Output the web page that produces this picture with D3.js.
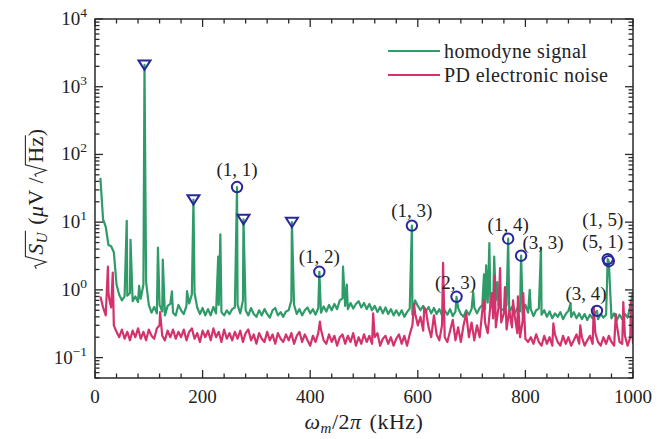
<!DOCTYPE html>
<html><head>
<meta charset="utf-8">
<script src="https://cdn.jsdelivr.net/npm/d3@7"></script>
<style>
body { margin: 0; background: #fff; }
svg text { font-family: 'Liberation Serif', 'DejaVu Serif', serif; fill: #222; }
</style>
</head>
<body>
<div id="chart"></div>
<script>

// baseline samples on a 5 kHz grid starting at 10 kHz
var gridStart = 10, gridStep = 5;

var homodyneBase = [
  45, 11, 8.5, 4.6, 4.4, 3.6, 1.2, 0.85, 0.7, 0.8,
  0.82, 0.9, 0.68, 0.8, 0.66, 0.74, 1.2, 1.3, 0.6, 0.46,
  0.56, 0.45, 0.6, 0.48, 0.42, 0.58, 0.62, 0.46, 0.42, 0.6,
  0.5, 0.44, 0.58, 0.63, 0.85, 0.9, 0.55, 0.44, 0.54, 0.42,
  0.52, 0.42, 0.56, 0.45, 0.6, 0.47, 0.42, 0.5, 0.44, 0.52,
  0.55, 0.6, 0.45, 0.7, 0.5, 0.42, 0.54, 0.44, 0.4, 0.5,
  0.42, 0.52, 0.44, 0.39, 0.5, 0.54, 0.42, 0.47, 0.4, 0.48,
  0.5, 0.7, 0.6, 0.44, 0.52, 0.42, 0.5, 0.55, 0.45, 0.52,
  0.43, 0.54, 0.46, 0.57, 0.48, 0.6, 0.5, 0.62, 0.52, 0.7,
  0.75, 0.58, 0.52, 0.64, 0.53, 0.62, 0.68, 0.55, 0.64, 0.52,
  0.62, 0.5, 0.58, 0.47, 0.56, 0.45, 0.55, 0.44, 0.52, 0.42,
  0.5, 0.42, 0.5, 0.4, 0.47, 0.53, 0.43, 0.7, 0.58, 0.5,
  0.58, 0.48, 0.56, 0.45, 0.54, 0.44, 0.52, 0.42, 0.5, 0.43,
  0.52, 0.41, 0.48, 0.54, 0.44, 0.4, 0.5, 0.43, 0.52, 0.55,
  0.45, 0.54, 0.6, 0.52, 0.65, 0.55, 0.62, 0.7, 0.6, 0.52,
  0.5, 0.6, 0.47, 0.56, 0.45, 0.54, 0.48, 0.44, 0.6, 0.46,
  0.52, 0.41, 0.5, 0.53, 0.43, 0.5, 0.4, 0.48, 0.38, 0.45,
  0.4, 0.47, 0.37, 0.44, 0.49, 0.4, 0.47, 0.38, 0.45, 0.37,
  0.44, 0.36, 0.43, 0.38, 0.46, 0.37, 0.44, 0.39, 0.43, 0.48,
  0.38, 0.45, 0.36, 0.43, 0.37, 0.44, 0.39, 0.58, 0.95
];
var homodynePeakF = [59, 66, 82, 92, 117, 126, 143, 171, 183, 229, 233, 264, 276, 366, 417,
  461, 468, 589, 672, 703, 723, 727, 733, 742, 748, 768, 792, 808, 829, 884, 933, 953, 955];
var homodynePeakV = [10.5, 5.5, 1.15, 2100, 4.2, 2.8, 0.95, 0.96, 21.5, 3.1, 6.6, 33, 11, 10, 1.85,
  2.2, 1.2, 8.9, 0.79, 0.93, 1.7, 2.3, 4.9, 3.1, 1.3, 5.7, 3.2, 1.0, 4.2, 0.63, 0.49, 2.85, 2.65];

var noiseBase = [
  0.8, 0.55, 0.42, 0.9, 0.55, 0.3, 0.24, 0.2, 0.26, 0.19,
  0.24, 0.18, 0.25, 0.2, 0.27, 0.19, 0.24, 0.18, 0.26, 0.21,
  0.19, 0.27, 0.3, 0.21, 0.18, 0.25, 0.2, 0.26, 0.19, 0.24,
  0.2, 0.26, 0.18, 0.24, 0.27, 0.19, 0.23, 0.17, 0.25, 0.2,
  0.25, 0.18, 0.27, 0.2, 0.24, 0.17, 0.26, 0.19, 0.23, 0.18,
  0.24, 0.19, 0.25, 0.17, 0.23, 0.26, 0.18, 0.22, 0.16, 0.23,
  0.19, 0.17, 0.24, 0.18, 0.22, 0.16, 0.23, 0.19, 0.17, 0.22,
  0.18, 0.23, 0.16, 0.21, 0.24, 0.17, 0.22, 0.18, 0.15, 0.21,
  0.17, 0.23, 0.26, 0.18, 0.16, 0.22, 0.17, 0.21, 0.15, 0.2,
  0.22, 0.16, 0.21, 0.17, 0.23, 0.15, 0.2, 0.16, 0.22, 0.17,
  0.21, 0.16, 0.2, 0.23, 0.15, 0.19, 0.21, 0.16, 0.2, 0.15,
  0.19, 0.22, 0.16, 0.21, 0.15, 0.22, 0.3, 0.45, 0.3, 0.4,
  0.25, 0.5, 0.28, 0.2, 0.42, 0.22, 0.18, 0.3, 0.2, 0.17,
  0.25, 0.36, 0.18, 0.28, 0.17, 0.3, 0.45, 0.2, 0.33, 0.18,
  0.3, 0.2, 0.5, 0.33, 0.23, 0.6, 0.38, 0.28, 0.55, 0.33,
  0.45, 0.26, 0.5, 0.28, 0.42, 0.23, 0.2, 0.35, 0.19, 0.17,
  0.2, 0.16, 0.22, 0.17, 0.15, 0.21, 0.16, 0.2, 0.15, 0.22,
  0.17, 0.15, 0.21, 0.16, 0.2, 0.15, 0.18, 0.22, 0.16, 0.2,
  0.15, 0.18, 0.21, 0.16, 0.23, 0.17, 0.15, 0.2, 0.16, 0.21,
  0.17, 0.15, 0.3, 0.17, 0.16, 0.21, 0.15, 0.2, 0.16
];
var noisePeakF = [24, 27, 33, 121, 418, 517, 593, 612, 647, 723, 738, 743, 753, 762, 777, 786, 796,
  852, 902, 927, 968, 982, 996];
var noisePeakV = [2.2, 0.7, 1.8, 0.47, 0.34, 0.45, 0.62, 0.55, 2.5, 0.7, 0.9, 1.6, 2.1, 1.1, 0.7, 0.8, 0.9,
  0.32, 0.3, 0.56, 0.44, 0.66, 0.66];

var modeF = [264, 417, 589, 672, 768, 792, 933, 953, 955];
var modeV = [33, 1.85, 8.9, 0.79, 5.7, 3.2, 0.49, 2.85, 2.65];
var modeLabels = ["(1, 1)", "(1, 2)", "(1, 3)", "(2, 3)", "(1, 4)", "(3, 3)", "(3, 4)", "(1, 5)", "(5, 1)"];

var triangleF = [92, 183, 276, 366];
var triangleV = [2100, 21.5, 11, 10];

var xTickValues = [0, 200, 400, 600, 800, 1000];
var yDecades = [-1, 0, 1, 2, 3, 4];
var seriesNames = ["homodyne signal", "PD electronic noise"];

// ---------------------------------------------------------------

var W = 668, H = 439;
var margin = {top: 19, right: 35, bottom: 61, left: 95};
var green = "#2e9b68", red = "#d4326c", navy = "#28289a", ink = "#2a2a2a";
var serif = "'Liberation Serif', 'DejaVu Serif', serif";

var svg = d3.select("#chart").append("svg")
    .attr("width", W).attr("height", H)
    .attr("font-family", serif);

var xScale = d3.scaleLinear().domain([0, 1000]).range([margin.left, W - margin.right]);
var yScale = d3.scaleLog().domain([0.05, 1e4]).range([H - margin.bottom, margin.top]);
var x0 = xScale.range()[0], x1 = xScale.range()[1];
var yTop = yScale.range()[1], yBot = yScale.range()[0];

function mergeSeries(base, pf, pv) {
  var m = new Map();
  base.forEach(function(v, i) { m.set(gridStart + i * gridStep, v); });
  pf.forEach(function(f, i) { m.set(f, pv[i]); });
  return Array.from(m, function(e) { return {f: e[0], v: e[1]}; })
    .sort(function(a, b) { return a.f - b.f; });
}

var homodyne = mergeSeries(homodyneBase, homodynePeakF, homodynePeakV);
var noise = mergeSeries(noiseBase, noisePeakF, noisePeakV);

svg.append("clipPath").attr("id", "clip")
  .append("rect").attr("x", x0).attr("y", yTop).attr("width", x1 - x0).attr("height", yBot - yTop);

var line = d3.line()
    .x(function(d) { return xScale(d.f); })
    .y(function(d) { return yScale(d.v); });

var plot = svg.append("g").attr("clip-path", "url(#clip)");

plot.append("path").datum(homodyne)
  .attr("fill", "none").attr("stroke", green).attr("stroke-width", 2.2)
  .attr("stroke-linejoin", "round").attr("d", line);

plot.append("path").datum(noise)
  .attr("fill", "none").attr("stroke", red).attr("stroke-width", 2.2)
  .attr("stroke-linejoin", "round").attr("d", line);

// markers
svg.selectAll(".tri").data(triangleF).enter().append("path")
  .attr("class", "tri")
  .attr("d", "M-6,-4.5 L6,-4.5 L0,5 Z")
  .attr("transform", function(d, i) { return "translate(" + xScale(d) + "," + yScale(triangleV[i]) + ")"; })
  .attr("fill", "none").attr("stroke", navy).attr("stroke-width", 2);

svg.selectAll(".mode").data(modeF).enter().append("circle")
  .attr("class", "mode")
  .attr("cx", function(d) { return xScale(d); })
  .attr("cy", function(d, i) { return yScale(modeV[i]); })
  .attr("r", 5.2)
  .attr("fill", "none").attr("stroke", navy).attr("stroke-width", 2);

var labelOffset = [[0, -11], [0, -9], [0, -9], [-1, -8], [0, -8], [22, -7], [-11, -11], [-5, -33], [-6, -13]];
svg.selectAll(".modelabel").data(modeLabels).enter().append("text")
  .attr("x", function(d, i) { return xScale(modeF[i]) + labelOffset[i][0]; })
  .attr("y", function(d, i) { return yScale(modeV[i]) + labelOffset[i][1]; })
  .attr("text-anchor", "middle")
  .style("font-size", "19px")
  .text(function(d) { return d; });

// frame and ticks
svg.append("rect").attr("x", x0).attr("y", yTop).attr("width", x1 - x0).attr("height", yBot - yTop)
  .attr("fill", "none").attr("stroke", ink).attr("stroke-width", 1.5);

var ticks = svg.append("g").attr("stroke", ink).attr("stroke-width", 1.3);
d3.range(0, 1001, 40).forEach(function(f) {
  var len = (f % 200 === 0) ? 8 : 4.5;
  var x = xScale(f);
  ticks.append("line").attr("x1", x).attr("x2", x).attr("y1", yBot).attr("y2", yBot - len);
  ticks.append("line").attr("x1", x).attr("x2", x).attr("y1", yTop).attr("y2", yTop + len);
});
d3.range(-2, 5).forEach(function(d) {
  d3.range(1, 10).forEach(function(k) {
    var v = k * Math.pow(10, d);
    if (v < 0.05 || v > 1e4) return;
    var len = (k === 1) ? 8 : 4.5;
    var y = yScale(v);
    ticks.append("line").attr("x1", x0).attr("x2", x0 + len).attr("y1", y).attr("y2", y);
    ticks.append("line").attr("x1", x1).attr("x2", x1 - len).attr("y1", y).attr("y2", y);
  });
});

svg.selectAll(".xtl").data(xTickValues).enter().append("text")
  .attr("x", function(d) { return xScale(d); })
  .attr("y", yBot + 25)
  .attr("text-anchor", "middle")
  .style("font-size", "19px")
  .text(function(d) { return d; });

var ytl = svg.selectAll(".ytl").data(yDecades).enter().append("text")
  .attr("x", x0 - 8)
  .attr("y", function(d) { return yScale(Math.pow(10, d)) + 6; })
  .attr("text-anchor", "end")
  .style("font-size", "19px");
ytl.append("tspan").text("10");
ytl.append("tspan").attr("dy", -8).style("font-size", "13.5px")
  .text(function(d) { return d < 0 ? "\u2212" + (-d) : d; });

// rich text helper: lays pieces side by side, returns end x
function pieces(g, list, size) {
  var x = 0;
  list.forEach(function(p) {
    if (p.space) { x += p.space; return; }
    var t = g.append("text").attr("x", x).attr("y", p.dy || 0)
      .style("font-size", (p.size || size) + "px")
      .style("font-style", p.it ? "italic" : "normal")
      .style("letter-spacing", "0.5px")
      .text(p.t);
    if (p.mark) p.mark.start = x;
    x += t.node().getComputedTextLength();
    if (p.mark) p.mark.end = x;
  });
  return x;
}

function radical(g, xa, xb, s) {
  g.append("path")
    .attr("d", "M" + xa + "," + (-0.3 * s) + " L" + (xa + 0.12 * s) + "," + (-0.37 * s) +
      " L" + (xa + 0.3 * s) + "," + (0.14 * s) + " L" + (xa + 0.55 * s) + "," + (-0.8 * s) +
      " H" + (xb + 1))
    .attr("fill", "none").attr("stroke", ink).attr("stroke-width", 1.1);
}

// y axis label
var ySize = 22;
var ylab = svg.append("g").attr("transform", "translate(43," + ((yTop + yBot) / 2) + ") rotate(-90)");
var yin = ylab.append("g");
var subU = {}, hz = {};
var yw = pieces(yin, [
  {space: 14},
  {t: "S", it: 1},
  {t: "U", it: 1, size: 15, dy: 4, mark: subU},
  {space: 7},
  {t: "("},
  {t: "\u03bc", it: 1},
  {t: "V / "},
  {space: 14},
  {t: "Hz", mark: hz},
  {t: ")"}
], ySize);
radical(yin, 0, subU.end, ySize);
radical(yin, hz.start - 14, hz.end, ySize);
yin.attr("transform", "translate(" + (-yw / 2) + ",0)");

// x axis label
var xlab = svg.append("g");
var xw = pieces(xlab, [
  {t: "\u03c9", it: 1},
  {t: "m", it: 1, size: 15, dy: 4},
  {t: "/2"},
  {t: "\u03c0", it: 1},
  {space: 8},
  {t: "(kHz)"}
], 22);
xlab.attr("transform", "translate(" + ((x0 + x1) / 2 - xw / 2) + "," + (H - 10) + ")");

// legend
var legend = svg.append("g").attr("transform", "translate(388,51)");
[green, red].forEach(function(c, i) {
  legend.append("line").attr("x1", 0).attr("x2", 52).attr("y1", i * 24).attr("y2", i * 24)
    .attr("stroke", c).attr("stroke-width", 2.2);
  legend.append("text").attr("x", 56).attr("y", i * 24 + 6.5)
    .style("font-size", "20px").style("letter-spacing", "0.4px")
    .text(seriesNames[i]);
});

</script>
</body></html>
